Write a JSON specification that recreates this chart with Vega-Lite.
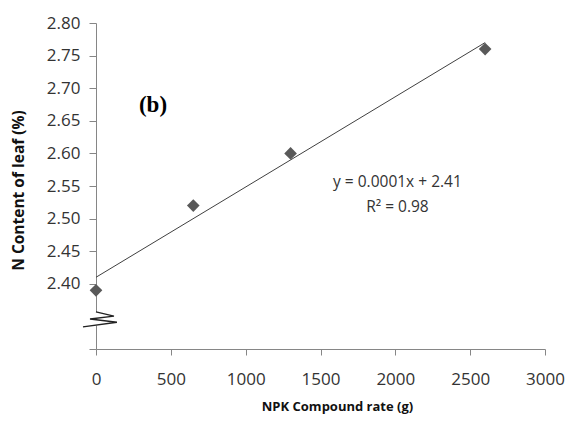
{
  "$schema": "https://vega.github.io/schema/vega-lite/v6.json",
  "width": 449,
  "height": 326,
  "autosize": {"type": "none"},
  "padding": {"left": 96, "top": 23, "right": 22, "bottom": 85},
  "background": "white",
  "config": {
    "view": {"stroke": null},
    "axis": {
      "grid": false,
      "domainColor": "#868686",
      "tickColor": "#868686",
      "labelFont": "Open Sans",
      "labelFontSize": 17,
      "labelColor": "#333333",
      "labelOverlap": false,
      "labelFlush": false,
      "labelBound": false,
      "titleFont": "Open Sans",
      "titleFontWeight": "bold",
      "titleColor": "#111111"
    }
  },
  "datasets": {
    "points": [
      {"rate": 0, "n": 2.39},
      {"rate": 650, "n": 2.52},
      {"rate": 1300, "n": 2.60},
      {"rate": 2600, "n": 2.76}
    ],
    "trend": [
      {"rate": 0, "n": 2.41},
      {"rate": 2600, "n": 2.77}
    ],
    "mask": [
      {"rate": -110, "rate2": 25, "n": 2.336, "n2": 2.3565}
    ],
    "brk": [
      {"i": 1, "rate": 0, "n": 2.357},
      {"i": 2, "rate": 120, "n": 2.3505},
      {"i": 3, "rate": -40, "n": 2.346},
      {"i": 4, "rate": 140, "n": 2.341},
      {"i": 5, "rate": -87, "n": 2.334}
    ]
  },
  "layer": [
    {
      "data": {"name": "trend"},
      "mark": {"type": "line", "color": "#404040", "strokeWidth": 1},
      "encoding": {
        "x": {
          "field": "rate", "type": "quantitative",
          "scale": {"domain": [0, 3000], "nice": false, "zero": false},
          "axis": {
            "values": [0, 500, 1000, 1500, 2000, 2500, 3000],
            "format": "d",
            "tickSize": 6,
            "labelPadding": 16,
            "title": "NPK Compound rate (g)",
            "titleFontSize": 13,
            "titleX": 241,
            "titleY": 57,
            "titleAlign": "center",
            "titleBaseline": "middle"
          }
        },
        "y": {
          "field": "n", "type": "quantitative",
          "scale": {"domain": [2.3, 2.8], "nice": false, "zero": false},
          "axis": {
            "tickCount": 10,
            "labelOverlap": false,
            "labelExpr": "datum.value < 2.38 ? '' : format(datum.value, '.2f')",
            "tickSize": 7,
            "labelPadding": 9,
            "title": "N Content of leaf (%)",
            "titleFontSize": 15.5,
            "titleX": -78,
            "titleY": 167,
            "titleAlign": "center",
            "titleBaseline": "middle",
            "titleAngle": -90
          }
        }
      }
    },
    {
      "data": {"name": "points"},
      "mark": {"type": "point", "shape": "diamond", "filled": true, "size": 160, "color": "#595959", "opacity": 1},
      "encoding": {
        "x": {"field": "rate", "type": "quantitative"},
        "y": {"field": "n", "type": "quantitative"}
      }
    },
    {
      "data": {"name": "mask"},
      "mark": {"type": "rect", "color": "white"},
      "encoding": {
        "x": {"field": "rate", "type": "quantitative"},
        "x2": {"field": "rate2"},
        "y": {"field": "n", "type": "quantitative"},
        "y2": {"field": "n2"}
      }
    },
    {
      "data": {"name": "brk"},
      "mark": {"type": "line", "color": "#222222", "strokeWidth": 1.3},
      "encoding": {
        "x": {"field": "rate", "type": "quantitative"},
        "y": {"field": "n", "type": "quantitative"},
        "order": {"field": "i", "type": "quantitative"}
      }
    },
    {
      "data": {"values": [{}]},
      "mark": {"type": "text", "font": "Liberation Serif", "fontWeight": "bold", "fontSize": 23, "color": "#000000", "align": "center", "baseline": "middle"},
      "encoding": {
        "x": {"datum": 381, "type": "quantitative"},
        "y": {"datum": 2.674, "type": "quantitative"},
        "text": {"value": "(b)"}
      }
    },
    {
      "data": {"values": [{}]},
      "mark": {"type": "text", "font": "Open Sans", "fontSize": 15.5, "color": "#333333", "align": "center", "baseline": "middle"},
      "encoding": {
        "x": {"datum": 2014, "type": "quantitative"},
        "y": {"datum": 2.556, "type": "quantitative"},
        "text": {"value": "y = 0.0001x + 2.41"}
      }
    },
    {
      "data": {"values": [{}]},
      "mark": {"type": "text", "font": "Open Sans", "fontSize": 15.5, "color": "#333333", "align": "center", "baseline": "middle"},
      "encoding": {
        "x": {"datum": 2014, "type": "quantitative"},
        "y": {"datum": 2.518, "type": "quantitative"},
        "text": {"value": "R² = 0.98"}
      }
    }
  ]
}
